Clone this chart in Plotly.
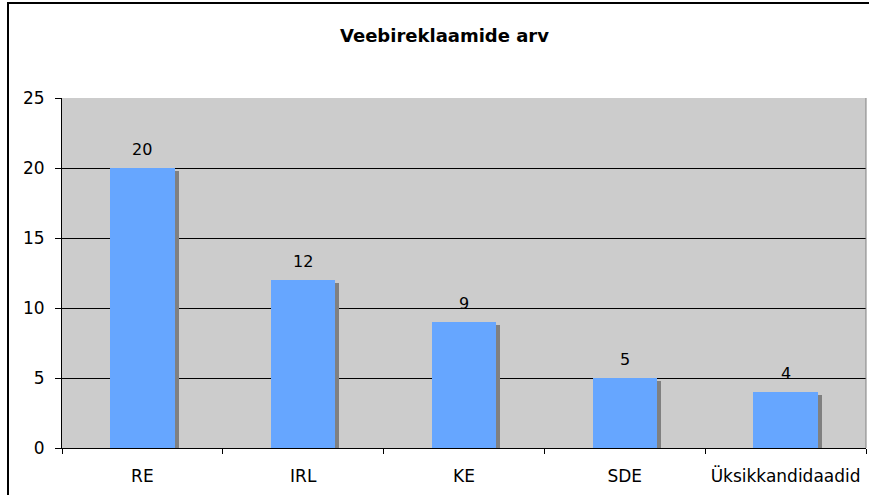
import plotly.graph_objects as go

categories = ["RE", "IRL", "KE", "SDE", "Üksikkandidaadid"]
values = [20, 12, 9, 5, 4]
y_ticks = [0, 5, 10, 15, 20, 25]
title_text = "Veebireklaamide arv"

FONT = "DejaVu Sans, Verdana, sans-serif"
W, H = 869, 495
ML, MR, MT, MB = 62, 3, 98, 47
PW = W - ML - MR
PH = H - MT - MB

# shadow offset in pixels, converted to data units through the axes' scales
dx_px, dy_px = 4, 3
cat_px = PW / len(categories)
val_px = PH / (y_ticks[-1] - y_ticks[0])
dx = dx_px / cat_px
dy = dy_px / val_px

bar_w = 0.40

fig = go.Figure()
fig.add_trace(go.Bar(
    x=categories, y=[v - dy for v in values],
    width=bar_w, offset=-bar_w / 2 + dx,
    marker=dict(color="#808080", line=dict(width=0)),
    hoverinfo="skip", showlegend=False,
))
fig.add_trace(go.Bar(
    x=categories, y=values,
    width=bar_w, offset=-bar_w / 2,
    marker=dict(color="#66A6FF", line=dict(width=0)),
    showlegend=False,
))

for c, v in zip(categories, values):
    fig.add_annotation(x=c, y=v, text=str(v), showarrow=False,
                       yanchor="middle", yshift=19,
                       font=dict(family=FONT, size=16, color="black"))

fig.add_annotation(xref="paper", yref="paper",
                   x=(444 - ML) / PW, y=(H - MB - 35) / PH,
                   text="<b>" + title_text + "</b>", showarrow=False,
                   xanchor="center", yanchor="middle",
                   font=dict(family=FONT, size=18, color="black"))

# outer frame
fig.add_shape(type="rect", xref="paper", yref="paper",
              x0=(8 - ML) / PW, x1=(W + 5 - ML) / PW,
              y0=(H - MB - (H + 5)) / PH, y1=(H - MB - 3) / PH,
              line=dict(color="black", width=2), fillcolor="rgba(0,0,0,0)",
              layer="above")
# right border of plot area
fig.add_shape(type="line", xref="paper", yref="paper",
              x0=1, x1=1, y0=0, y1=1,
              line=dict(color="#808080", width=1), layer="above")

fig.update_layout(
    width=W, height=H,
    margin=dict(l=ML, r=MR, t=MT, b=MB, pad=0),
    paper_bgcolor="white", plot_bgcolor="#CCCCCC",
    barmode="overlay", bargap=0,
    font=dict(family=FONT, size=17, color="black"),
    showlegend=False,
)
fig.update_xaxes(
    type="category", tickson="boundaries", ticks="outside", ticklen=5,
    tickcolor="black", showline=True, linecolor="black", linewidth=1,
    showgrid=False, range=[-0.5, len(categories) - 0.5],
    tickfont=dict(family=FONT, size=17, color="black"),
    ticklabelstandoff=13,
)
fig.update_yaxes(
    range=[y_ticks[0], y_ticks[-1]], tickvals=y_ticks,
    ticks="outside", ticklen=6, tickcolor="black",
    showline=True, linecolor="black", linewidth=1,
    showgrid=True, gridcolor="black", gridwidth=1,
    zeroline=False,
    tickfont=dict(family=FONT, size=17, color="black"),
    ticklabelstandoff=7,
)

fig.write_html(
    "out.html",
    config={"displayModeBar": False},
    post_script="document.body.style.margin='0';document.body.style.overflow='hidden';",
)
